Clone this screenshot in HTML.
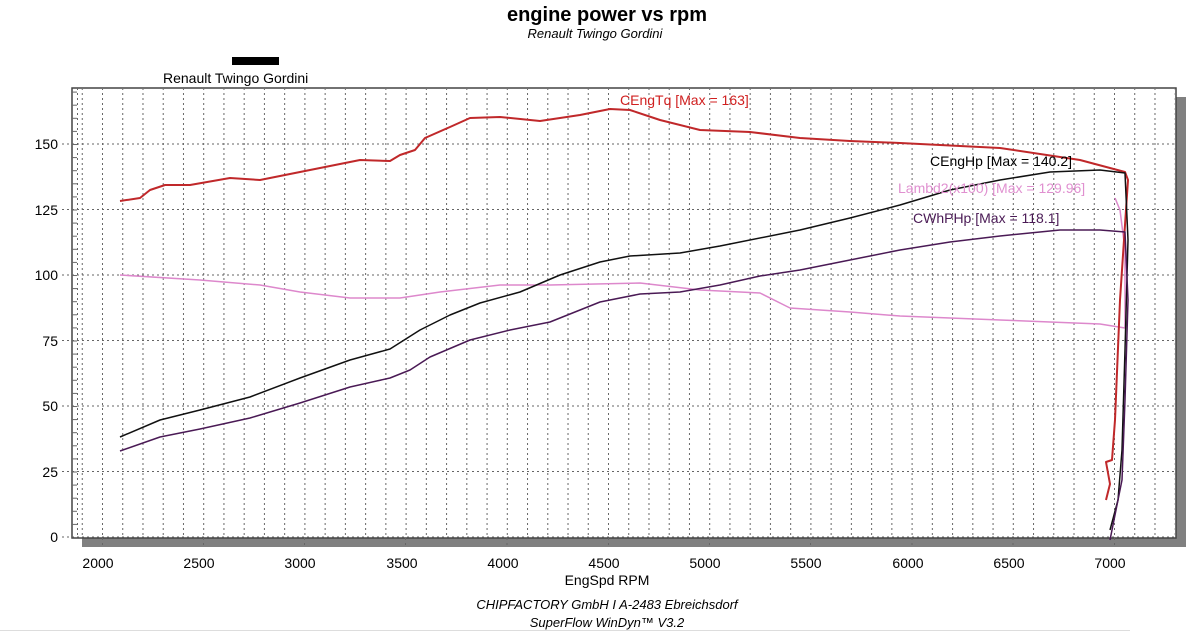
<!DOCTYPE html><html><head><meta charset="utf-8"><style>body{margin:0;background:#fff}svg{display:block;font-family:"Liberation Sans",sans-serif}</style></head><body>
<svg width="1200" height="632" xmlns="http://www.w3.org/2000/svg">
<defs>
<pattern id="pv" x="81.76" y="88" width="20.24" height="450" patternUnits="userSpaceOnUse"><line x1="0.5" y1="0" x2="0.5" y2="450" stroke="#666" stroke-dasharray="2,3"/></pattern>
<pattern id="ph" x="72" y="537" width="6" height="13.1" patternUnits="userSpaceOnUse"><line x1="0" y1="0.5" x2="5" y2="0.5" stroke="#666"/></pattern>
</defs>
<rect x="82" y="97" width="1104" height="450" fill="#808080"/>
<rect x="72" y="88" width="1104" height="450" fill="#fff" stroke="#444" stroke-width="1.5"/>
<rect x="81" y="89" width="1094" height="448" fill="url(#pv)"/>
<rect x="72" y="89" width="5" height="448" fill="url(#ph)"/>
<line x1="77.5" y1="88" x2="77.5" y2="538" stroke="#666" stroke-dasharray="2,3"/>
<g stroke="#666" stroke-dasharray="2,3">
<line x1="62" y1="537" x2="1176" y2="537"/><line x1="62" y1="471.5" x2="1176" y2="471.5"/><line x1="62" y1="406" x2="1176" y2="406"/><line x1="62" y1="340.5" x2="1176" y2="340.5"/><line x1="62" y1="275" x2="1176" y2="275"/><line x1="62" y1="209.5" x2="1176" y2="209.5"/><line x1="62" y1="144" x2="1176" y2="144"/>
<path d="M102.5 538V548M203.5 538V548M304.5 538V548M405.5 538V548M507 538V548M608.5 538V548M709.5 538V548M810.5 538V548M912 538V548M1013 538V548M1114.5 538V548"/>
</g>
<text x="607" y="21" text-anchor="middle" font-size="20" font-weight="bold">engine power vs rpm</text>
<text x="595" y="38" text-anchor="middle" font-size="13" font-style="italic">Renault Twingo Gordini</text>
<rect x="232" y="57" width="47" height="8" fill="#000"/>
<text x="163" y="83" font-size="14">Renault Twingo Gordini</text>
<g font-size="14" text-anchor="end">
<text x="58" y="149">150</text><text x="58" y="215">125</text><text x="58" y="280">100</text><text x="58" y="346">75</text><text x="58" y="411">50</text><text x="58" y="477">25</text><text x="58" y="542">0</text></g>
<g font-size="14" text-anchor="middle">
<text x="98" y="568">2000</text><text x="199" y="568">2500</text><text x="300" y="568">3000</text><text x="402" y="568">3500</text><text x="503" y="568">4000</text><text x="604" y="568">4500</text><text x="705" y="568">5000</text><text x="806" y="568">5500</text><text x="908" y="568">6000</text><text x="1009" y="568">6500</text><text x="1110" y="568">7000</text></g>
<text x="607" y="585" text-anchor="middle" font-size="14">EngSpd RPM</text>
<text x="607" y="609" text-anchor="middle" font-size="13" font-style="italic">CHIPFACTORY GmbH I A-2483 Ebreichsdorf</text>
<text x="607" y="627" text-anchor="middle" font-size="13" font-style="italic">SuperFlow WinDyn™ V3.2</text>
<line x1="0" y1="630.5" x2="1130" y2="630.5" stroke="#ddd"/>
<g fill="none" stroke-width="1.5" stroke-linejoin="round">
<polyline stroke="#dd88cc" points="120,275 200,280 260,285 300,292 350,298 400,298 440,292 500,285 550,285 640,283 700,290 760,293 790,308 850,312 900,316 950,318 1000,320 1050,322 1100,324 1125,328 1125,250 1120,210 1115,198"/>
<polyline stroke="#c0282a" stroke-width="2" points="120,201 140,198 150,190 165,185 190,185 230,178 260,180 300,172 340,164 360,160 390,161 400,155 415,150 425,138 450,127 470,118 500,117 540,121 580,115 610,109 630,110 660,120 700,130 750,132 800,138 850,141 900,143 1000,148 1080,160 1125,172 1128,180 1120,300 1115,420 1112,460 1106,462 1110,484 1106,500"/>
<polyline stroke="#111" points="120,437 160,420 200,410 250,397 300,378 350,360 390,349 420,330 450,315 480,303 520,292 560,275 600,262 630,256 680,253 720,246 800,230 850,218 900,205 950,190 1000,180 1050,172 1100,170 1125,173 1128,240 1125,350 1122,450 1118,500 1110,530"/>
<polyline stroke="#4a1a55" points="120,451 160,437 200,429 250,418 300,403 350,387 390,378 410,370 430,357 470,340 510,330 550,322 600,302 640,294 680,292 720,285 760,276 800,270 850,260 900,250 950,242 1000,236 1060,230 1100,230 1125,232 1128,300 1125,400 1122,480 1115,515 1110,540"/>
</g>
<g font-size="14">
<text x="620" y="105" fill="#d02020">CEngTq [Max = 163]</text>
<text x="930" y="166" fill="#000">CEngHp [Max = 140.2]</text>
<text x="898" y="193" fill="#e090d0">Lambd2(x100) [Max = 129.96]</text>
<text x="913" y="223" fill="#4a1a55">CWhPHp [Max = 118.1]</text>
</g>
</svg></body></html>
